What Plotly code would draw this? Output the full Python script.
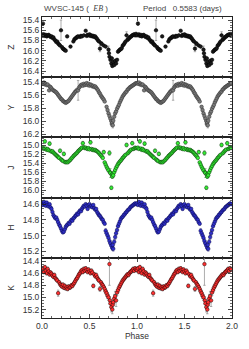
import plotly.graph_objects as go
from plotly.subplots import make_subplots

# ---------------- data (phase 0-1, folded with P = 0.5583 d) ----------------
z_phase = [0.00,0.01,0.02,0.03,0.04,0.05,0.06,0.07,0.08,0.09,
           0.10,0.11,0.12,0.13,0.14,0.15,0.16,0.17,0.18,0.19,
           0.20,0.21,0.22,0.23,0.24,0.25,0.265,0.30,0.33,0.34,
           0.35,0.36,0.37,0.38,0.40,0.41,0.42,0.44,0.46,0.47,
           0.48,0.49,0.50,0.51,0.52,0.53,0.54,0.55,0.56,0.57,
           0.58,0.59,0.60,0.61,0.62,0.63,0.65,0.67,0.70,0.705,
           0.71,0.72,0.73,0.735,0.74,0.75,0.76,0.77,0.78,0.79,
           0.80,0.81,0.82,0.83,0.84,0.85,0.86,0.87,0.88,0.89,
           0.90,0.91,0.92,0.93,0.94,0.95,0.96,0.97,0.98,0.99]
z_mag = [15.70,15.47,15.68,15.71,15.69,15.72,15.70,15.69,15.71,15.73,
         15.72,15.75,15.74,15.78,15.80,15.83,15.82,15.86,15.88,15.90,
         15.60,15.93,15.96,15.97,15.99,16.00,15.72,15.92,15.82,15.78,
         15.76,15.75,15.73,15.72,15.73,15.71,15.72,15.70,15.61,15.71,
         15.69,15.70,15.68,15.71,15.70,15.72,15.71,15.73,15.72,15.75,
         15.77,15.80,15.82,15.96,15.85,15.87,15.90,15.92,15.98,16.05,
         16.12,16.18,16.25,16.15,16.30,16.22,16.28,16.20,16.25,16.18,
         16.02,16.00,15.98,15.97,15.95,15.90,15.88,15.85,15.82,15.70,
         15.79,15.77,15.75,15.73,15.72,15.70,15.69,15.68,15.70,15.67]
z_err = [0.01,0.03,0.01,0.01,0.01,0.01,0.01,0.01,0.01,0.01,
         0.01,0.01,0.01,0.01,0.01,0.01,0.01,0.01,0.01,0.01,
         0.20,0.01,0.01,0.01,0.01,0.02,0.02,0.01,0.01,0.01,
         0.01,0.01,0.01,0.01,0.01,0.01,0.01,0.01,0.01,0.01,
         0.01,0.01,0.01,0.01,0.01,0.01,0.01,0.01,0.01,0.01,
         0.01,0.01,0.01,0.06,0.01,0.01,0.01,0.01,0.07,0.02,
         0.02,0.02,0.03,0.02,0.03,0.02,0.03,0.02,0.02,0.02,
         0.02,0.01,0.01,0.01,0.01,0.01,0.01,0.01,0.01,0.07,
         0.01,0.01,0.01,0.01,0.01,0.01,0.01,0.01,0.01,0.01]

y_phase = [0.00,0.01,0.02,0.03,0.04,0.05,0.06,0.075,0.08,0.09,
           0.10,0.11,0.12,0.13,0.14,0.15,0.16,0.17,0.18,0.19,
           0.20,0.21,0.22,0.23,0.24,0.25,0.26,0.27,0.28,0.29,
           0.30,0.31,0.32,0.33,0.34,0.35,0.36,0.37,0.38,0.39,
           0.40,0.41,0.42,0.43,0.44,0.45,0.46,0.47,0.48,0.49,
           0.50,0.51,0.52,0.53,0.54,0.55,0.56,0.57,0.58,0.59,
           0.60,0.61,0.62,0.63,0.64,0.65,0.66,0.68,0.69,0.70,
           0.71,0.72,0.73,0.735,0.74,0.745,0.75,0.76,0.77,0.78,
           0.79,0.80,0.81,0.82,0.83,0.84,0.85,0.86,0.87,0.88,
           0.89,0.90,0.91,0.92,0.93,0.94,0.95,0.96,0.97,0.98,
           0.99]
y_mag = [15.42,15.43,15.41,15.44,15.43,15.45,15.44,15.53,15.47,15.48,
         15.50,15.52,15.53,15.54,15.55,15.56,15.58,15.60,15.62,15.64,
         15.66,15.67,15.69,15.70,15.71,15.72,15.71,15.70,15.69,15.67,
         15.65,15.63,15.61,15.59,15.57,15.55,15.54,15.52,15.53,15.49,
         15.47,15.45,15.44,15.46,15.43,15.45,15.44,15.42,15.45,15.43,
         15.46,15.44,15.45,15.47,15.46,15.48,15.47,15.49,15.51,15.53,
         15.56,15.58,15.61,15.63,15.65,15.67,15.70,15.78,15.83,15.88,
         15.92,15.96,16.00,16.04,16.02,16.06,15.99,15.93,15.88,15.85,
         15.81,15.78,15.75,15.71,15.68,15.65,15.62,15.60,15.58,15.56,
         15.55,15.52,15.51,15.49,15.48,15.47,15.46,15.45,15.44,15.43,
         15.42]
y_err = [0.01,0.01,0.01,0.01,0.01,0.01,0.01,0.01,0.01,0.01,
         0.01,0.01,0.01,0.01,0.01,0.01,0.01,0.01,0.01,0.01,
         0.01,0.01,0.01,0.01,0.01,0.01,0.01,0.01,0.01,0.01,
         0.01,0.01,0.01,0.01,0.01,0.01,0.01,0.01,0.15,0.01,
         0.01,0.01,0.01,0.01,0.01,0.01,0.01,0.01,0.01,0.01,
         0.01,0.01,0.01,0.01,0.01,0.01,0.01,0.01,0.01,0.01,
         0.01,0.01,0.01,0.01,0.01,0.01,0.01,0.02,0.02,0.02,
         0.03,0.03,0.04,0.04,0.03,0.04,0.03,0.02,0.02,0.01,
         0.01,0.01,0.01,0.01,0.01,0.01,0.01,0.01,0.01,0.01,
         0.01,0.01,0.01,0.01,0.01,0.01,0.01,0.01,0.01,0.01,
         0.01]

j_phase = [0.00,0.01,0.02,0.03,0.04,0.05,0.06,0.07,0.08,0.09,
           0.10,0.11,0.12,0.13,0.14,0.15,0.16,0.17,0.18,0.19,
           0.20,0.21,0.22,0.23,0.24,0.25,0.26,0.27,0.28,0.29,
           0.30,0.31,0.32,0.33,0.34,0.35,0.36,0.37,0.38,0.39,
           0.40,0.41,0.42,0.43,0.44,0.45,0.46,0.47,0.48,0.49,
           0.50,0.51,0.52,0.53,0.54,0.55,0.56,0.57,0.58,0.59,
           0.60,0.61,0.62,0.63,0.64,0.65,0.66,0.67,0.68,0.69,
           0.70,0.71,0.715,0.72,0.73,0.735,0.74,0.745,0.75,0.76,
           0.77,0.78,0.79,0.80,0.81,0.82,0.83,0.84,0.85,0.86,
           0.87,0.88,0.89,0.90,0.91,0.92,0.93,0.94,0.95,0.96,
           0.97,0.98,0.99]
j_mag = [15.06,15.05,15.08,14.91,15.07,15.10,15.08,15.11,14.96,15.12,
         15.14,15.13,15.16,15.18,15.20,15.22,15.24,15.26,15.28,15.12,
         15.31,15.33,15.35,15.19,15.37,15.38,15.37,15.38,15.36,15.34,
         15.32,15.29,15.27,15.24,15.22,15.20,15.18,15.16,15.13,15.11,
         15.09,15.07,15.05,14.95,15.04,15.06,15.05,15.07,15.08,15.06,
         15.09,14.93,15.08,15.10,15.09,15.11,15.10,15.12,15.13,15.15,
         15.17,15.20,15.22,15.25,15.28,15.15,15.38,15.43,15.48,15.52,
         15.56,15.17,15.60,15.62,15.95,15.66,15.70,15.64,15.67,15.60,
         15.55,15.50,15.46,15.42,15.39,15.36,15.34,15.31,15.28,15.26,
         15.23,15.21,14.99,15.18,15.16,15.13,15.11,15.09,14.95,15.08,
         15.07,15.05,15.06]
j_err = [0.02,0.02,0.02,0.04,0.02,0.02,0.02,0.02,0.04,0.02,
         0.02,0.02,0.02,0.02,0.02,0.02,0.02,0.02,0.02,0.04,
         0.02,0.02,0.02,0.04,0.02,0.02,0.02,0.02,0.02,0.02,
         0.02,0.02,0.02,0.02,0.02,0.02,0.02,0.02,0.02,0.02,
         0.02,0.02,0.02,0.04,0.02,0.02,0.02,0.02,0.02,0.02,
         0.02,0.04,0.02,0.02,0.02,0.02,0.02,0.02,0.02,0.02,
         0.02,0.02,0.02,0.02,0.02,0.04,0.02,0.03,0.03,0.03,
         0.03,0.05,0.04,0.10,0.04,0.04,0.04,0.04,0.04,0.03,
         0.03,0.03,0.02,0.02,0.02,0.02,0.02,0.02,0.02,0.02,
         0.02,0.02,0.04,0.02,0.02,0.02,0.02,0.02,0.04,0.02,
         0.02,0.02,0.02]

h_phase = [0.00,0.01,0.02,0.03,0.04,0.05,0.06,0.07,0.08,0.09,
           0.10,0.11,0.12,0.13,0.14,0.15,0.16,0.17,0.18,0.19,
           0.20,0.21,0.22,0.23,0.24,0.25,0.26,0.27,0.28,0.29,
           0.30,0.31,0.32,0.33,0.34,0.35,0.36,0.37,0.38,0.39,
           0.40,0.41,0.42,0.43,0.44,0.45,0.46,0.47,0.48,0.49,
           0.50,0.51,0.52,0.53,0.54,0.55,0.56,0.57,0.58,0.59,
           0.60,0.61,0.62,0.63,0.64,0.65,0.66,0.67,0.68,0.69,
           0.70,0.71,0.72,0.73,0.74,0.745,
           0.75,0.76,0.77,0.78,0.79,0.80,0.81,0.82,0.83,0.84,
           0.85,0.86,0.87,0.88,0.89,0.90,0.91,0.92,0.93,0.94,
           0.95,0.96,0.97,0.98,0.99]
h_mag = [14.59,14.61,14.57,14.60,14.62,14.58,14.61,14.63,14.60,14.64,
         14.66,14.70,14.74,14.76,14.78,14.77,14.80,14.83,14.86,14.88,
         14.91,14.94,14.96,14.95,14.92,14.89,14.87,14.86,14.84,14.85,
         14.82,14.80,14.81,14.78,14.77,14.75,14.74,14.72,14.73,14.70,
         14.68,14.69,14.66,14.64,14.62,14.63,14.60,14.62,14.66,14.61,
         14.60,14.63,14.62,14.64,14.61,14.65,14.67,14.66,14.70,14.72,
         14.74,14.75,14.77,14.79,14.80,14.83,14.85,14.94,14.97,15.00,
         15.03,15.07,15.10,15.13,15.16,15.12,
         15.17,15.08,15.02,14.97,14.93,14.88,14.85,14.82,14.79,14.77,
         14.76,14.74,14.73,14.71,14.70,14.68,14.67,14.66,14.64,14.63,
         14.62,14.61,14.60,14.59,14.60]
h_err = [0.015,0.015,0.015,0.015,0.015,0.015,0.015,0.015,0.015,0.015,
         0.015,0.015,0.015,0.015,0.015,0.015,0.015,0.015,0.015,0.015,
         0.015,0.015,0.015,0.015,0.015,0.015,0.015,0.015,0.015,0.015,
         0.015,0.015,0.015,0.015,0.015,0.015,0.015,0.015,0.015,0.015,
         0.015,0.015,0.015,0.015,0.015,0.015,0.015,0.015,0.015,0.015,
         0.015,0.015,0.015,0.015,0.015,0.015,0.015,0.015,0.015,0.015,
         0.015,0.015,0.015,0.015,0.015,0.015,0.015,0.03,0.03,0.03,
         0.03,0.03,0.03,0.03,0.03,0.03,
         0.03,0.03,0.03,0.03,0.015,0.015,0.015,0.015,0.015,0.015,
         0.015,0.015,0.015,0.015,0.015,0.015,0.015,0.015,0.015,0.015,
         0.015,0.015,0.015,0.015,0.015]

k_phase = [0.00,0.01,0.02,0.03,0.04,0.05,0.06,0.07,0.08,0.09,
           0.10,0.11,0.12,0.13,0.14,0.15,0.16,0.17,0.18,0.19,
           0.20,0.21,0.22,0.23,0.24,0.25,0.26,0.27,0.28,0.29,
           0.30,0.31,0.32,0.33,0.34,0.35,0.36,0.37,0.38,0.39,
           0.40,0.41,0.42,0.43,0.44,0.45,0.46,0.47,0.48,0.49,
           0.50,0.51,0.52,0.53,0.54,0.55,0.56,0.57,0.58,0.59,
           0.60,0.61,0.62,0.63,0.64,0.65,0.66,0.67,0.68,0.69,
           0.70,0.71,0.715,0.72,0.73,0.74,0.745,
           0.75,0.76,0.77,0.78,0.79,0.80,0.81,0.82,0.83,0.84,
           0.85,0.86,0.87,0.88,0.89,0.90,0.91,0.92,0.93,0.94,
           0.95,0.96,0.97,0.98,0.99]
k_mag = [14.55,14.52,14.58,14.50,14.56,14.60,14.53,14.57,14.62,14.59,
         14.61,14.64,14.66,14.63,14.68,14.70,14.72,14.93,14.75,14.78,
         14.80,14.82,14.79,14.84,14.81,14.85,14.83,14.86,14.82,14.84,
         14.83,14.80,14.81,14.78,14.76,14.73,14.70,14.68,14.65,14.62,
         14.60,14.57,14.55,14.58,14.53,14.56,14.52,14.55,14.58,14.54,
         14.57,14.60,14.56,14.59,14.81,14.62,14.65,14.63,14.67,14.70,
         14.72,14.86,14.75,14.78,14.80,14.83,14.86,14.90,14.93,14.97,
         15.00,14.45,15.05,15.10,15.16,15.20,15.12,
         15.08,15.02,14.98,15.05,14.92,14.88,14.84,14.81,14.78,14.75,
         14.72,14.70,14.68,14.66,14.64,14.62,14.63,14.60,14.58,14.57,
         14.55,14.53,14.56,14.52,14.54]
k_err = [0.03,0.03,0.03,0.03,0.03,0.03,0.03,0.03,0.03,0.03,
         0.03,0.03,0.03,0.03,0.03,0.03,0.03,0.05,0.03,0.03,
         0.03,0.03,0.03,0.03,0.03,0.03,0.03,0.03,0.03,0.03,
         0.03,0.03,0.03,0.03,0.03,0.03,0.03,0.03,0.03,0.03,
         0.03,0.03,0.03,0.03,0.03,0.03,0.03,0.03,0.03,0.03,
         0.03,0.03,0.03,0.03,0.03,0.03,0.03,0.03,0.03,0.03,
         0.03,0.04,0.03,0.03,0.03,0.03,0.04,0.04,0.05,0.05,
         0.05,0.35,0.06,0.07,0.08,0.07,0.06,
         0.06,0.07,0.08,0.10,0.05,0.04,0.04,0.03,0.03,0.03,
         0.03,0.03,0.03,0.03,0.03,0.03,0.03,0.03,0.03,0.03,
         0.03,0.03,0.03,0.03,0.03]

band_names = ["Z", "Y", "J", "H", "K"]
y_ranges = [[16.52, 15.34], [16.245, 15.33], [16.17, 14.82], [15.284, 14.516], [15.34, 14.346]]
title_left = "WVSC-145 (  <span style='font-family:Liberation Serif;font-style:italic'>EB</span> )"
title_right = "Period   0.5583 (days)"

# ---------------- styles ----------------
fills = ["#1a1a1a", "#7a7a7a", "#33ee33", "#3030c8", "#ff3030"]
edges = ["#000000", "#303030", "#0a300a", "#0a0a50", "#200000"]
ecols = ["#8a8a8a", "#8a8a8a", "#70a870", "#8080b0", "#8a8a8a"]

series = [(z_phase, z_mag, z_err), (y_phase, y_mag, y_err), (j_phase, j_mag, j_err),
          (h_phase, h_mag, h_err), (k_phase, k_mag, k_err)]

fig = make_subplots(rows=5, cols=1, shared_xaxes=True, vertical_spacing=0)

font_fam = "Liberation Sans, Arial, sans-serif"
for i, (ph, mg, er) in enumerate(series):
    x = list(ph) + [p + 1 for p in ph]
    y = list(mg) + list(mg)
    e = list(er) + list(er)
    fig.add_trace(go.Scatter(
        x=x, y=y, mode="markers",
        marker=dict(symbol="circle", size=3.6, color=fills[i],
                    line=dict(color=edges[i], width=0.5)),
        error_y=dict(type="data", array=e, visible=True, color=ecols[i],
                     thickness=0.7, width=1.2),
        showlegend=False, hoverinfo="skip"), row=i + 1, col=1)
    fig.update_yaxes(range=y_ranges[i], dtick=0.2, tick0=0, tickformat=".1f",
                     title=dict(text=band_names[i], font=dict(size=8.5, color="#333"), standoff=6),
                     row=i + 1, col=1)

fig.update_yaxes(showline=True, linecolor="#222", linewidth=1, mirror="ticks",
                 ticks="inside", ticklen=4, tickcolor="#222", tickwidth=0.8,
                 minor=dict(dtick=0.05, ticks="inside", ticklen=2, tickcolor="#444"),
                 showgrid=False, zeroline=False, ticklabeloverflow="allow",
                 tickfont=dict(size=8.5, color="#333", family=font_fam))
fig.update_xaxes(range=[0, 2], dtick=0.5, tick0=0, tickformat=".1f",
                 showline=True, linecolor="#222", linewidth=1, mirror="ticks",
                 ticks="inside", ticklen=4, tickcolor="#222", tickwidth=0.8,
                 minor=dict(dtick=0.1, ticks="inside", ticklen=2, tickcolor="#444"),
                 showgrid=False, zeroline=False, ticklabeloverflow="allow",
                 tickfont=dict(size=8.5, color="#333", family=font_fam))
fig.update_xaxes(title=dict(text="Phase", font=dict(size=8.5, color="#333"), standoff=1), row=5, col=1)

fig.add_annotation(text=title_left, xref="paper", yref="paper", x=0, y=1.028,
                   xanchor="left", yanchor="middle", showarrow=False,
                   font=dict(size=8, color="#444", family=font_fam))
fig.add_annotation(text=title_right, xref="paper", yref="paper", x=0.96, y=1.028,
                   xanchor="right", yanchor="middle", showarrow=False,
                   font=dict(size=8, color="#444", family=font_fam))

fig.update_layout(width=249, height=349, margin=dict(l=34, r=11, t=17, b=27),
                  paper_bgcolor="white", plot_bgcolor="white", hovermode=False,
                  font=dict(family=font_fam, size=8.5, color="#333"))

fig.write_html("out.html", config={"displayModeBar": False, "staticPlot": True},
               post_script="document.body.style.margin='0';document.body.style.overflow='hidden';")
